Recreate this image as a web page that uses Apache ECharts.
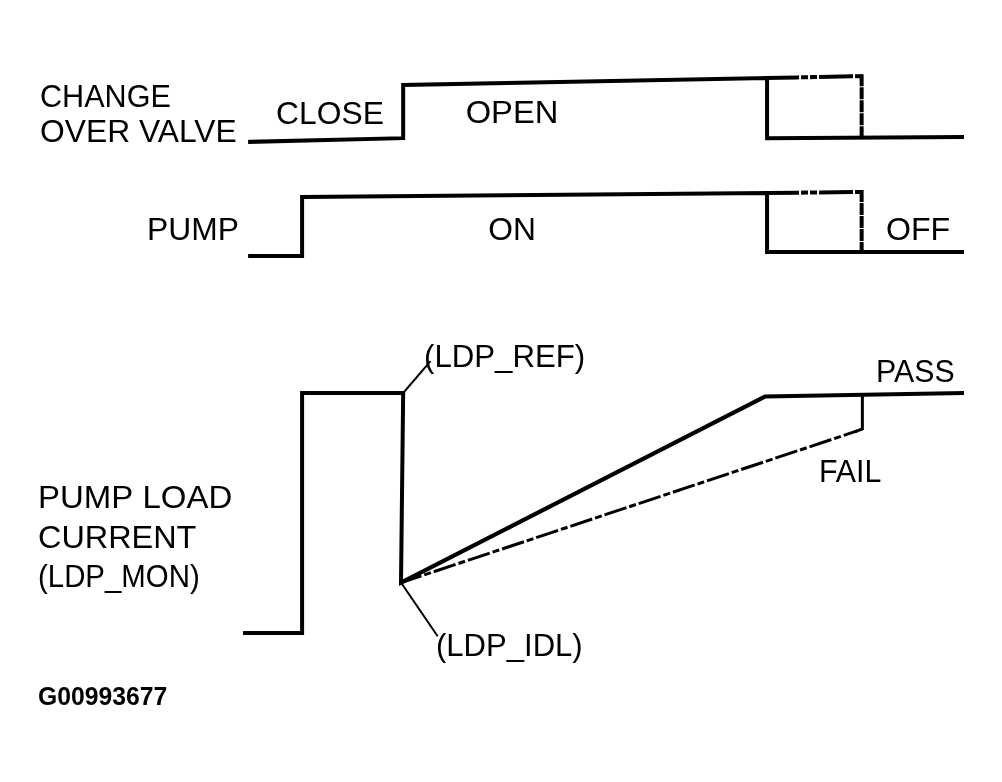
<!DOCTYPE html>
<html>
<head>
<meta charset="utf-8">
<script src="https://cdn.jsdelivr.net/npm/echarts@6/dist/echarts.min.js"></script>
<style>
html,body{margin:0;padding:0;background:#fff;}
#main{width:1002px;height:782px;}
</style>
</head>
<body>
<div id="main"></div>
<script>
// time axis: arbitrary units 0..100, levels: 0 = low, 1 = high (incl. its slight tilt)
var valveTime = [1.4, 22.6, 22.6, 73, 73, 100];
var valveLevel = [-0.03, 0.03, 0.887, 1, 0.03, 0.05];
var valveAltTime = [73, 86.1, 86.1];
var valveAltLevel = [1, 1.03, 0.04];

var pumpTime = [1.4, 8.6, 8.6, 73, 73, 100];
var pumpLevel = [0, 0, 0.937, 1, 0.063, 0.063];
var pumpAltTime = [73, 86.1, 86.1];
var pumpAltLevel = [1, 1.016, 0.063];

var loadTime = [0.7, 8.6, 8.6, 22.6, 22.3, 72.7, 100];
var loadLevel = [0, 0, 1, 1, 0.21, 0.985, 1];
var failTime = [22.3, 85.3];
var failLevel = [0.21, 0.84];
var failHookTime = [85.3, 86.2, 86.2];
var failHookLevel = [0.84, 0.85, 0.985];
var refLeaderTime = [22.6, 26.3];
var refLeaderLevel = [1, 1.13];
var idlLeaderTime = [22.3, 27.3];
var idlLeaderLevel = [0.21, -0.01];

var valveLabels = ['CHANGE', 'OVER VALVE', 'CLOSE', 'OPEN'];
var pumpLabels = ['PUMP', 'ON', 'OFF'];
var loadLabels = ['PUMP LOAD', 'CURRENT', '(LDP_MON)', '(LDP_REF)', '(LDP_IDL)', 'PASS', 'FAIL'];
var figureId = 'G00993677';

function pairs(t, v){
	var out = [];
	for(var i=0;i<t.length;i++){
		out.push([t[i], v[i]]);
	}
	return out;
}

function lineSeries(idx, t, v, width, type){
	return {
		type : 'line',
		xAxisIndex : idx,
		yAxisIndex : idx,
		data : pairs(t, v),
		symbol : 'none',
		clip : false,
		animation : false,
		lineStyle : {
			color : '#000',
			width : width,
			type : type || 'solid',
			cap : 'square',
			join : 'miter'
		}
	};
}

//文字, sx = horizontal stretch to match the scan
function txt(text, x, y, align, sx, font){
	return {
		type : 'text',
		x : x,
		y : y,
		scaleX : sx || 1.05,
		scaleY : 1.04,
		style : {
			text : text,
			fill : '#000',
			font : font || '30px "Liberation Sans", Arial, sans-serif',
			align : align || 'left',
			verticalAlign : 'middle'
		}
	};
}

var myChart = echarts.init(document.getElementById('main'));
var option = {
	backgroundColor : '#fff',
	animation : false,
	grid : [
		{left:240, right:40, top:78, height:62},
		{left:240, right:40, top:193, height:63},
		{left:240, right:40, top:393, height:240}
	],
	xAxis : [0,1,2].map(function(i){
		return {type:'value', gridIndex:i, min:0, max:100, show:false};
	}),
	yAxis : [0,1,2].map(function(i){
		return {type:'value', gridIndex:i, min:0, max:1, show:false};
	}),
	series : [
		lineSeries(0, valveTime, valveLevel, 4),
		lineSeries(0, valveAltTime.slice(0,2), valveAltLevel.slice(0,2), 4, [30,6,3,6,3,6]),
		lineSeries(0, valveAltTime.slice(1), valveAltLevel.slice(1), 4, [8,5]),
		lineSeries(1, pumpTime, pumpLevel, 4),
		lineSeries(1, pumpAltTime.slice(0,2), pumpAltLevel.slice(0,2), 4, [30,6,3,6,3,6]),
		lineSeries(1, pumpAltTime.slice(1), pumpAltLevel.slice(1), 4, [8,5]),
		lineSeries(2, loadTime, loadLevel, 4),
		lineSeries(2, failTime, failLevel, 3, [20,6,4,6]),
		lineSeries(2, failHookTime, failHookLevel, 3),
		lineSeries(2, refLeaderTime, refLeaderLevel, 2),
		lineSeries(2, idlLeaderTime, idlLeaderLevel, 2)
	],
	graphic : [
		txt(valveLabels[0], 40, 98, 'left', 1.02),
		txt(valveLabels[1], 40, 133, 'left', 1.06),
		txt(valveLabels[2], 330, 115, 'center', 1.06),
		txt(valveLabels[3], 512, 114, 'center', 1.09),
		txt(pumpLabels[0], 239, 231, 'right', 1.06),
		txt(pumpLabels[1], 512, 231, 'center', 1.06),
		txt(pumpLabels[2], 918, 231, 'center', 1.07),
		txt(loadLabels[0], 38, 499, 'left', 1.1),
		txt(loadLabels[1], 38, 539, 'left', 1.08),
		txt(loadLabels[2], 38, 578, 'left', 0.98),
		txt(loadLabels[3], 424, 358, 'left', 1.04),
		txt(loadLabels[4], 436, 647, 'left', 1.035),
		txt(loadLabels[5], 876, 373, 'left', 1.01),
		txt(loadLabels[6], 819, 473, 'left', 1.01),
		txt(figureId, 38, 698, 'left', 1.03, 'bold 24px "Liberation Sans", Arial, sans-serif')
	]
};
myChart.setOption(option);
</script>
</body>
</html>
